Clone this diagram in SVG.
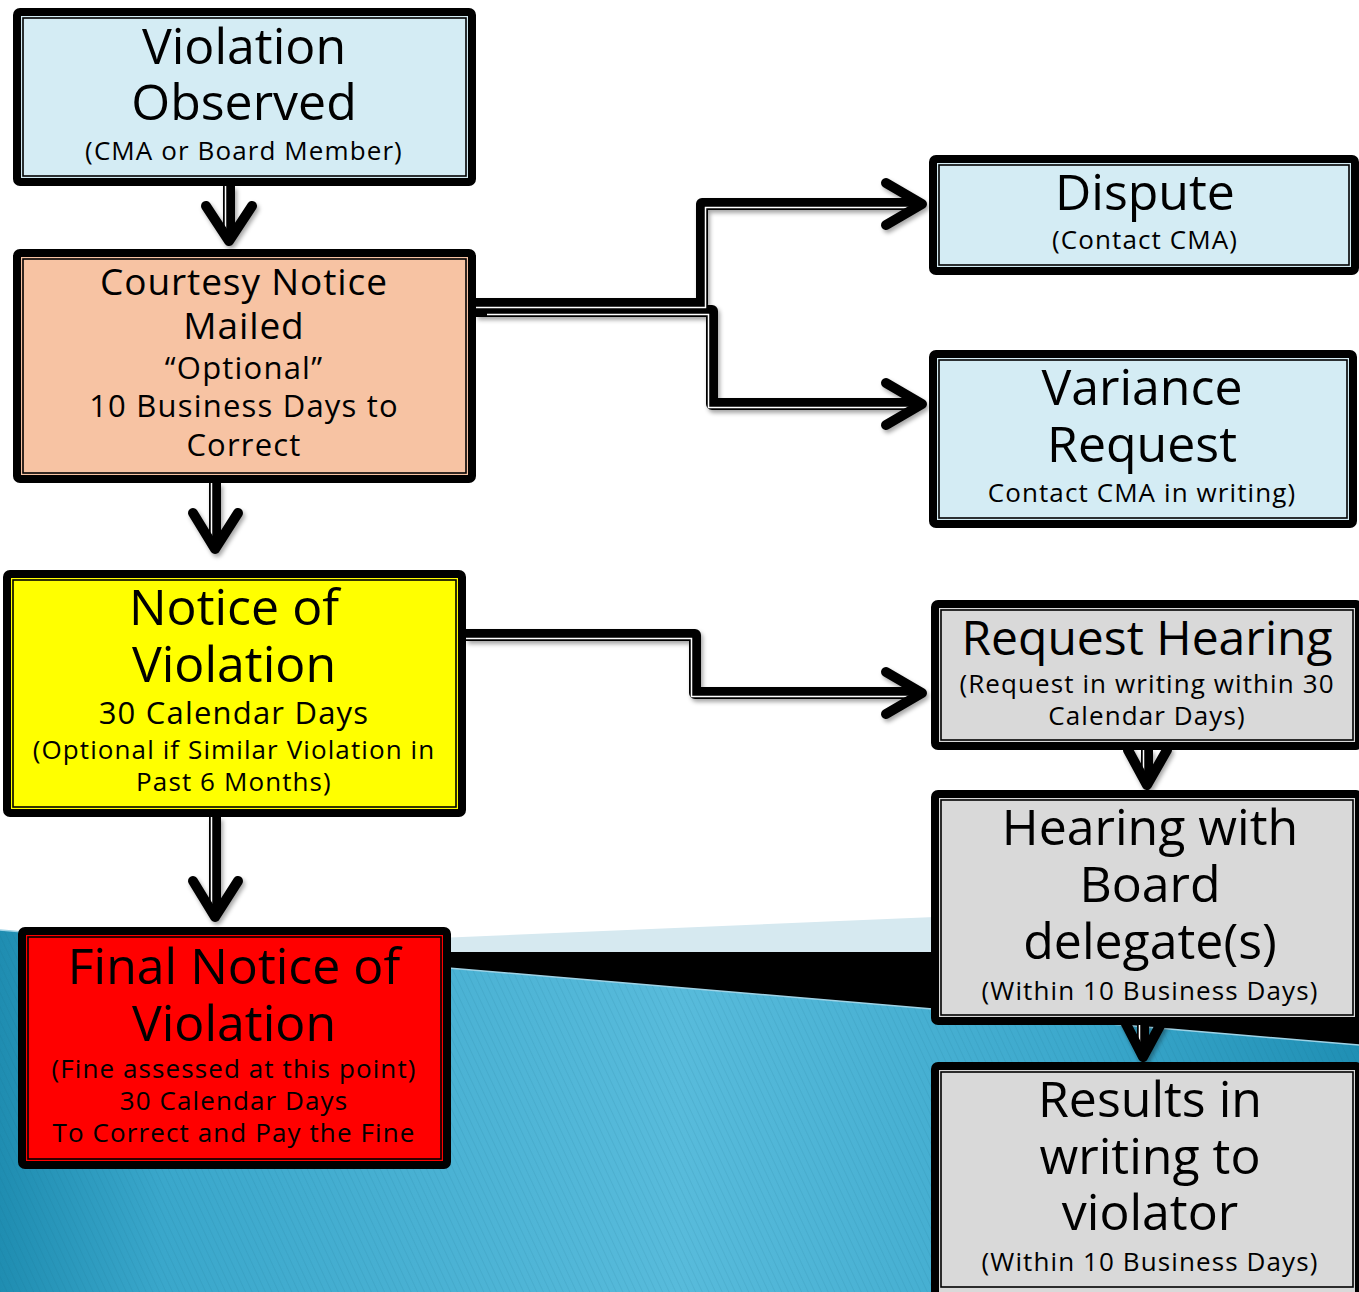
<svg xmlns="http://www.w3.org/2000/svg" width="1359" height="1292" viewBox="0 0 1359 1292">
<defs>
<style>
text{font-family:"Open Sans","Noto Sans","DejaVu Sans",sans-serif;fill:#000;text-anchor:middle}
.big{font-size:50px}
.mid{font-size:37px;letter-spacing:0.9px}
.med{font-size:31px;letter-spacing:1.2px}
.sm{font-size:26px;letter-spacing:1.1px}
.frame{stroke:#000;stroke-width:8;stroke-linejoin:round}
.inner{fill:none;stroke:#000;stroke-width:1.6}
.ln{fill:none;stroke:#000;stroke-width:12;stroke-linejoin:round}
.lw{fill:none;stroke:#fff;stroke-width:1.5}
.hd{fill:none;stroke:#000;stroke-width:10;stroke-linecap:round;stroke-linejoin:round}
.blue{fill:#d4ecf4}
.peach{fill:#f7c3a3}
.yel{fill:#ffff00}
.red{fill:#ff0000}
.grey{fill:#d9d9d9}
</style>
<linearGradient id="bg" x1="0" y1="0" x2="1" y2="0">
<stop offset="0" stop-color="#1f8db1"/>
<stop offset="0.12" stop-color="#3aa7cb"/>
<stop offset="0.5" stop-color="#58bbdb"/>
<stop offset="0.8" stop-color="#3ba8cc"/>
<stop offset="1" stop-color="#1f8fb4"/>
</linearGradient>
<pattern id="stripes" width="6" height="6" patternUnits="userSpaceOnUse" patternTransform="rotate(-25)">
<line x1="0" y1="0" x2="0" y2="6" stroke="#0b5f80" stroke-width="1.2" stroke-opacity="0.18"/>
</pattern>
<filter id="sh" x="-10%" y="-10%" width="130%" height="130%">
<feDropShadow dx="2" dy="3" stdDeviation="2" flood-color="#000" flood-opacity="0.35"/>
</filter>
</defs>
<rect width="1359" height="1292" fill="#fff"/>
<g id="background">
<polygon points="200,948 1359,899 1359,960 200,960" fill="#d6e9f0"/>
<polygon points="250,952 1359,952 1359,1060 250,1060" fill="#000"/>
<polygon points="0,930 1359,1045 1359,1292 0,1292" fill="url(#bg)"/>
<polygon points="0,930 1359,1045 1359,1292 0,1292" fill="url(#stripes)"/>
<line x1="0" y1="930" x2="1359" y2="1045" stroke="#9fd3e6" stroke-width="1.5"/>
</g>
<g id="connectors" filter="url(#sh)">
<path class="ln" d="M476,311 H712 V404 H918"/>
<path class="lw" d="M487,314.5 H708.5 V407.5 H912"/>
<path class="hd" d="M886,383 L922,404 L886,425"/>
<path class="ln" d="M476,304 H702 V204 H918"/>
<path class="lw" d="M476,307.5 H705.5 V207.5 H912"/>
<path class="hd" d="M886,183 L922,204 L886,225"/>
<path class="ln" d="M466,635 H695 V693 H918"/>
<path class="lw" d="M466,638.5 H691.5 V696.5 H912"/>
<path class="hd" d="M886,672 L922,693 L886,714"/>
<path class="ln" d="M229,186 V236"/>
<path class="lw" d="M225.5,186 V232"/>
<path class="hd" d="M206,206 L229,241 L252,206"/>
<path class="ln" d="M215,483 V545"/>
<path class="lw" d="M211.5,483 V540"/>
<path class="hd" d="M193,513 L215,549 L238,513"/>
<path class="ln" d="M215,817 V913"/>
<path class="lw" d="M211.5,817 V908"/>
<path class="hd" d="M193,881 L215,917 L238,881"/>
<path class="ln" d="M1147,750 V782"/>
<path class="lw" d="M1143.5,750 V776"/>
<path class="hd" d="M1128,750 L1147,785 L1167,750"/>
<path class="ln" d="M1143,1020 V1054"/>
<path class="lw" d="M1139.5,1020 V1048"/>
<path class="hd" d="M1124,1020 L1143,1057 L1163,1020"/>
</g>
<g id="n1">
<rect class="frame blue" x="17" y="12" width="455" height="170" rx="3"/>
<rect class="inner" x="23" y="18" width="443" height="158"/>
<text class="big" x="244" y="64">Violation</text>
<text class="big" x="244" y="120">Observed</text>
<text class="sm" x="244" y="160">(CMA or Board Member)</text>
</g>
<g id="n2">
<rect class="frame peach" x="17" y="253" width="455" height="226" rx="3"/>
<rect class="inner" x="23" y="259" width="443" height="214"/>
<text class="mid" x="244" y="295">Courtesy Notice</text>
<text class="mid" x="244" y="339">Mailed</text>
<text class="med" x="244" y="379">“Optional”</text>
<text class="med" x="244" y="417">10 Business Days to</text>
<text class="med" x="244" y="456">Correct</text>
</g>
<g id="n3">
<rect class="frame yel" x="7" y="574" width="455" height="239" rx="3"/>
<rect class="inner" x="13" y="580" width="443" height="227"/>
<text class="big" x="234" y="625">Notice of</text>
<text class="big" x="234" y="682">Violation</text>
<text class="med" x="234" y="724">30 Calendar Days</text>
<text class="sm" x="234" y="759">(Optional if Similar Violation in</text>
<text class="sm" x="234" y="791">Past 6 Months)</text>
</g>
<g id="n4">
<rect class="frame red" x="22" y="931" width="425" height="234" rx="3"/>
<rect class="inner" x="28" y="937" width="413" height="222"/>
<text class="big" x="234" y="984">Final Notice of</text>
<text class="big" x="234" y="1041">Violation</text>
<text class="sm" x="234" y="1078">(Fine assessed at this point)</text>
<text class="sm" x="234" y="1110">30 Calendar Days</text>
<text class="sm" x="234" y="1142">To Correct and Pay the Fine</text>
</g>
<g id="n5">
<rect class="frame blue" x="933" y="159" width="422" height="112" rx="3"/>
<rect class="inner" x="939" y="165" width="410" height="100"/>
<text class="big" x="1145" y="210">Dispute</text>
<text class="sm" x="1145" y="249">(Contact CMA)</text>
</g>
<g id="n6">
<rect class="frame blue" x="933" y="354" width="420" height="170" rx="3"/>
<rect class="inner" x="939" y="360" width="408" height="158"/>
<text class="big" x="1142" y="405">Variance</text>
<text class="big" x="1142" y="462">Request</text>
<text class="sm" x="1142" y="502">Contact CMA in writing)</text>
</g>
<g id="n7">
<rect class="frame grey" x="935" y="604" width="424" height="142" rx="3"/>
<rect class="inner" x="941" y="610" width="412" height="130"/>
<text x="1147" y="655" style="font-size:48px">Request Hearing</text>
<text class="sm" x="1147" y="693">(Request in writing within 30</text>
<text class="sm" x="1147" y="725">Calendar Days)</text>
</g>
<g id="n8">
<rect class="frame grey" x="935" y="794" width="424" height="227" rx="3"/>
<rect class="inner" x="941" y="800" width="412" height="215"/>
<text class="big" x="1150" y="845">Hearing with</text>
<text class="big" x="1150" y="902">Board</text>
<text class="big" x="1150" y="959">delegate(s)</text>
<text class="sm" x="1150" y="1000">(Within 10 Business Days)</text>
</g>
<g id="n9">
<rect class="frame grey" x="935" y="1066" width="424" height="232" rx="3"/>
<rect class="inner" x="941" y="1072" width="412" height="215"/>
<text class="big" x="1150" y="1117">Results in</text>
<text class="big" x="1150" y="1174">writing to</text>
<text class="big" x="1150" y="1230">violator</text>
<text class="sm" x="1150" y="1271">(Within 10 Business Days)</text>
</g>
</svg>
